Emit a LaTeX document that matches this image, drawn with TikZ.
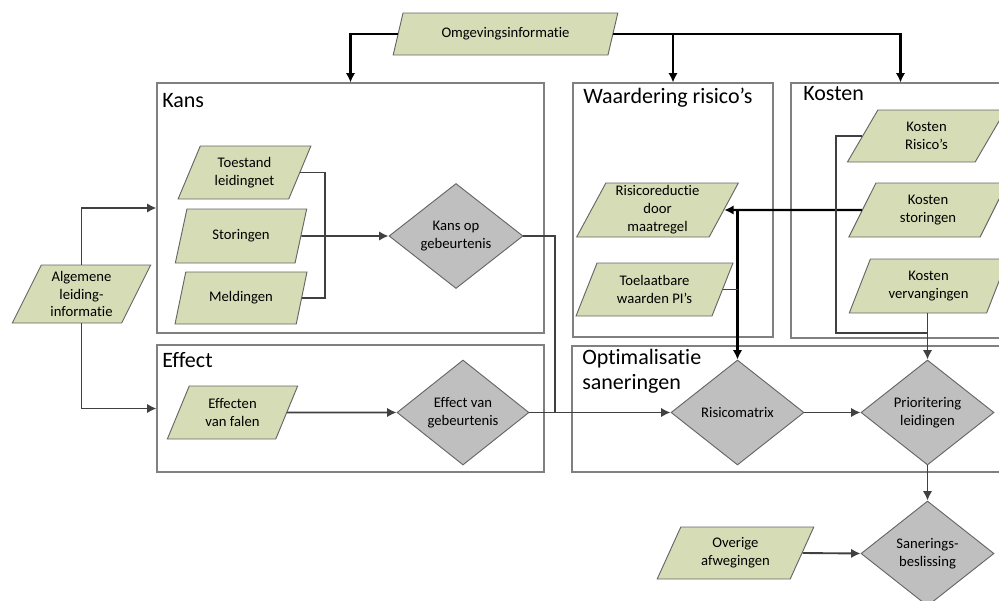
\documentclass[tikz,border=0pt]{standalone}
\usepackage{fontspec}
\setmainfont{Carlito}[Ligatures=NoCommon]
\usepackage{xcolor}
\usetikzlibrary{shapes.geometric, arrows.meta}

\definecolor{datagreen}{RGB}{214,220,181}
\definecolor{stepgray}{RGB}{191,191,191}
\definecolor{linegray}{RGB}{64,64,64}
\definecolor{boxgray}{RGB}{128,128,128}

\tikzset{
  dims/.style 2 args={minimum width=#1*0.75pt, minimum height=#2*0.75pt},
  data/.style={trapezium, trapezium left angle=64, trapezium right angle=116,
    trapezium stretches=true, draw=black!60, line width=0.7pt, fill=datagreen,
    align=center, inner sep=0pt, font=\fontsize{11}{13.4}\selectfont},
  decision/.style={diamond, draw=black!60, line width=0.7pt, fill=stepgray,
    align=center, inner sep=0pt, font=\fontsize{11}{13.4}\selectfont},
  region/.style={draw=boxgray, line width=0.8pt, inner sep=0pt},
  title/.style={anchor=west, inner sep=0pt, align=left, font=\fontsize{16.5}{19}\selectfont},
  link/.style={draw=linegray, line width=1.4pt},
  flow/.style={link, -{Latex[length=7pt,width=7pt]}},
  inflow/.style={draw=black, line width=1.6pt, -{Latex[length=7pt,width=7pt]}}
}

\begin{document}
\begin{tikzpicture}[x=0.75pt, y=-0.75pt]
\useasboundingbox (0,0) rectangle (999,600);
\clip (0,0) rectangle (999,600);

% Kaders
\node[region, dims={387}{250}] (kans) at (350.5,208) {};
\node[region, dims={200}{254}] (waard) at (673,210) {};
\node[region, dims={219}{255}] (kost) at (900.5,210.5) {};
\node[region, dims={387}{127}] (effect) at (350.5,408.5) {};
\node[region, dims={438}{126}] (optim) at (791,409) {};
\node[title] (kanstitle) at (162,101) {Kans};
\node[title] (waardtitle) at (583,98) {Waardering risico’s};
\node[title] (kosttitle) at (803,94) {Kosten};
\node[title] (effecttitle) at (162,360) {Effect};
\node[title] (optimtitle) at (582,371) {Optimalisatie\\saneringen};

% Invoer
\node[data, dims={225}{42}] (omg) at (505.5,34) {Omgevingsinformatie};
\node[data, dims={139}{58}] (alg) at (81.5,294) {Algemene\\leiding-\\informatie};
\node[data, dims={133}{53}] (toe) at (244.5,172.5) {Toestand\\leidingnet};
\node[data, dims={132}{54}] (sto) at (241,236) {Storingen};
\node[data, dims={132}{52}] (mel) at (241,298) {Meldingen};
\node[data, dims={131}{53}] (eff) at (232.5,412.5) {Effecten\\van falen};
\node[data, dims={163}{54}] (risred) at (657.5,210) {Risicoreductie\\door\\maatregel};
\node[data, dims={157}{53}] (toel) at (654.5,289.5) {Toelaatbare\\waarden PI’s};
\node[data, dims={159}{52}] (kr) at (926.5,136) {Kosten\\Risico’s};
\node[data, dims={159}{54}] (ks) at (928,210) {Kosten\\storingen};
\node[data, dims={159}{54}] (kv) at (928.5,286) {Kosten\\vervangingen};
\node[data, dims={157}{52}] (ov) at (735.5,553) {Overige\\afwegingen};

% Beslissingen
\node[decision, dims={134}{105}] (kansop) at (456,236) {Kans op\\gebeurtenis};
\node[decision, dims={132}{105}] (effvan) at (463,412.5) {Effect van\\gebeurtenis};
\node[decision, dims={133}{105}] (rm) at (737.5,412.5) {Risicomatrix};
\node[decision, dims={133}{105}] (prio) at (927.5,412.5) {Prioritering\\leidingen};
\node[decision, dims={133}{105}] (san) at (927.5,553.5) {Sanerings-\\beslissing};

% Knooppunten
\coordinate (j1) at (325,236);
\coordinate (j2) at (555,412.5);
\coordinate (j3) at (836,333);

% Verbindingen
\draw[inflow] (omg.west) -| (kans.north);
\draw[inflow] (omg.east) -| (waard.north);
\draw[inflow] (omg.east) -| (kost.north);
\draw[flow] (alg.north) |- (kans.west);
\draw[flow] (alg.south) |- (effect.west);
\draw[link] (toe.east) -| (j1) |- (mel.east);
\draw[flow] (sto.east) -- (kansop.west);
\draw[link] (kansop.east) -| (j2);
\draw[flow] (eff.east) -- (effvan.west);
\draw[flow] (effvan.east) -- (rm.west);
\draw[inflow] (ks.west) -- (risred.east);
\draw[inflow] (rm.north |- ks.west) -- (rm.north);
\draw[link] (toel.east) -- (toel.east -| rm.north);
\draw[link] (kr.west) -| (j3) -- (j3 -| prio.north);
\draw[flow] (prio.north |- kv.south) -- (prio.north);
\draw[flow] (rm.east) -- (prio.west);
\draw[flow] (prio.south) -- (san.north);
\draw[flow] (ov.east) -- (san.west);
\end{tikzpicture}
\end{document}
